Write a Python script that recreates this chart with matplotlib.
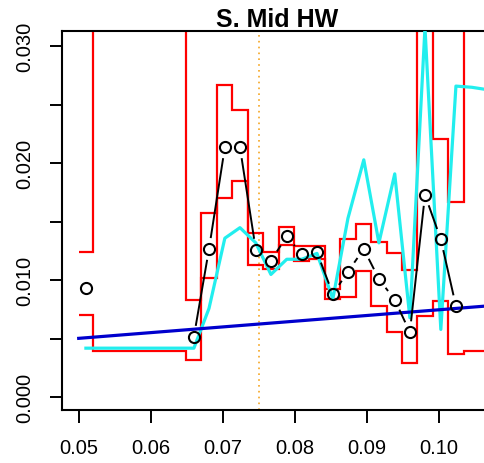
import numpy as np
import matplotlib
matplotlib.use("Agg")
import matplotlib.pyplot as plt
from matplotlib.collections import LineCollection

plt.rcParams['font.family'] = ['Liberation Sans', 'DejaVu Sans']

# --- data ---
# estimates (open circles, joined R type "b"); first point is isolated
pt_x = [0.0510, 0.0660, 0.0681, 0.0703, 0.0724, 0.0746, 0.0767, 0.0789, 0.0810, 0.0831,
        0.0853, 0.0874, 0.0896, 0.0917, 0.0939, 0.0960, 0.0981, 0.1003, 0.1024]
pt_y = [0.00934, 0.00518, 0.01268, 0.02137, 0.02137, 0.01262, 0.01168, 0.01376, 0.01222, 0.01239,
        0.00883, 0.01074, 0.01268, 0.01011, 0.00834, 0.00556, 0.01730, 0.01350, 0.00780]

# cyan curve
cy_x = [0.0510, 0.0660, 0.0681, 0.0703, 0.0724, 0.0746, 0.0767, 0.0789, 0.0810, 0.0831, 0.0853,
        0.0874, 0.0896, 0.0917, 0.0939, 0.0960, 0.0981, 0.1003, 0.1024, 0.1046, 0.1067]
cy_y = [0.0042, 0.0042, 0.0076, 0.0136, 0.0145, 0.0132, 0.0105, 0.0118, 0.0118, 0.0123, 0.0084,
        0.0153, 0.0203, 0.0132, 0.0191, 0.0068, 0.0316, 0.0058, 0.0266, 0.0265, 0.0263]

# red step bounds (bins between edges), 0.05 = off the top of the plot
step_edges = [0.0500, 0.0520, 0.0649, 0.0670, 0.0692, 0.0713, 0.0735, 0.0756, 0.0778, 0.0799, 0.0820,
              0.0842, 0.0863, 0.0885, 0.0906, 0.0928, 0.0949, 0.0970, 0.0992, 0.1013, 0.1035, 0.1080]
upper = [0.01244, 0.05, 0.00832, 0.01575, 0.02672, 0.02458, 0.01402, 0.01239, 0.01453, 0.01291,
         0.01291, 0.00930, 0.01353, 0.01481, 0.01328, 0.01232, 0.01085, 0.05, 0.02208, 0.01672, 0.05]
lower = [0.00703, 0.00400, 0.00319, 0.01020, 0.01700, 0.01851, 0.01131, 0.01097, 0.01302, 0.01168,
         0.01182, 0.00840, 0.00855, 0.01082, 0.00778, 0.00561, 0.00295, 0.00697, 0.00824, 0.00370, 0.00398]

# blue trend line
blue_x = [0.0500, 0.1080]
blue_y = [0.00504, 0.00787]

vline_x = 0.075

x_ticks = [0.05, 0.06, 0.07, 0.08, 0.09, 0.10]
x_labels = ['0.05', '0.06', '0.07', '0.08', '0.09', '0.10']
y_ticks = [0.000, 0.005, 0.010, 0.015, 0.020, 0.025, 0.030]
y_labels = ['0.000', '', '0.010', '', '0.020', '', '0.030']


def gapped_line(ax, xs, ys, gap_px, **kw):
    """Draw segments between points leaving a gap round each point (R type 'b')."""
    pts = ax.transData.transform(np.column_stack([xs, ys]))
    inv = ax.transData.inverted()
    segs = []
    for p0, p1 in zip(pts[:-1], pts[1:]):
        d = p1 - p0
        length = np.hypot(d[0], d[1])
        if length <= 2 * gap_px:
            continue
        u = d / length
        segs.append(inv.transform([p0 + u * gap_px, p1 - u * gap_px]))
    ax.add_collection(LineCollection(segs, **kw))


fig = plt.figure(figsize=(4.84, 4.64), dpi=100)
ax = fig.add_axes([62 / 484, 53 / 464, 430 / 484, 379 / 464])
ax.set_xlim(0.04768, 0.10741)
ax.set_ylim(-0.001085, 0.03131)

ax.stairs(upper, step_edges, baseline=None, color='#FF0000', lw=1.6, zorder=2)
ax.stairs(lower, step_edges, baseline=None, color='#FF0000', lw=1.6, zorder=2)
ax.plot(cy_x, cy_y, color='#22EEEE', lw=2.3, zorder=3)
ax.plot(blue_x, blue_y, color='#0000CD', lw=2.3, zorder=4)
ax.axvline(vline_x, color='#F5A623', lw=1.2, linestyle=(0, (1, 2.5)), zorder=1)

gapped_line(ax, pt_x[1:], pt_y[1:], 11, colors='black', linewidths=1.4, zorder=5)
ax.plot(pt_x, pt_y, 'o', ms=8, mfc='none', mec='black', mew=1.5, zorder=6)

ax.set_title('S. Mid HW', fontsize=18, fontweight='bold', pad=2)

ax.set_xticks(x_ticks)
ax.set_xticklabels(x_labels, fontsize=14.5)
ax.set_yticks(y_ticks)
ax.set_yticklabels(y_labels, fontsize=14.5, rotation=90, va='center')
ax.tick_params(direction='out', length=9, width=1.4, pad=11)

for s in ax.spines.values():
    s.set_linewidth(1.5)

fig.savefig('out.png', dpi=100)
